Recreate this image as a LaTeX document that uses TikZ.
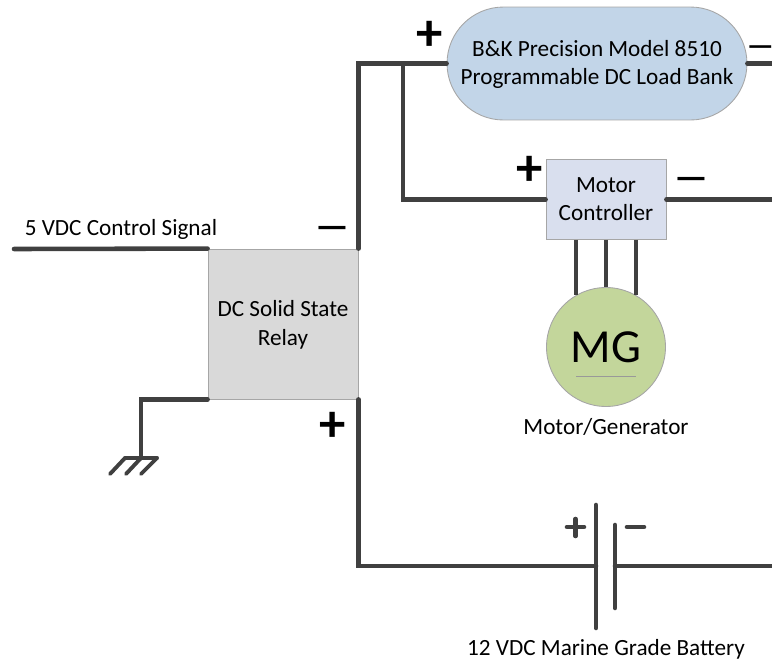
\documentclass[tikz,border=0pt]{standalone}
\usepackage{fontspec}
\setmainfont{Carlito}
\definecolor{wirecol}{HTML}{404040}
\definecolor{loadcol}{HTML}{C2D5E8}
\definecolor{ctrlcol}{HTML}{D9DFEE}
\definecolor{relaycol}{HTML}{D9D9D9}
\definecolor{mgcol}{HTML}{C3D69B}
\tikzset{
    wire/.style={line width=2.6pt, color=wirecol, line cap=round, line join=miter},
    thinwire/.style={line width=2.2pt, color=wirecol, line cap=round},
    blockbox/.style={draw=gray!70, line width=0.5pt, inner sep=0pt, align=center, text height=26.5pt, text depth=2.5pt, font=\fontsize{13.2}{16}\selectfont},
    textlabel/.style={inner sep=0pt, font=\fontsize{13.2}{16}\selectfont},
    polarplus/.style={inner sep=0pt, font=\fontsize{30}{30}\selectfont\bfseries},
    polarminus/.style={inner sep=0pt, font=\fontsize{21}{21}\selectfont\bfseries}
}

\begin{document}
\begin{tikzpicture}[x=0.02cm, y=-0.02cm]
            \useasboundingbox (0,0) rectangle (772,660);
            \node[blockbox, fill=relaycol, minimum width=3cm, minimum height=3cm] (relay) at (283,324) {DC Solid State\\Relay}; % Relay
            \node[blockbox, fill=loadcol, minimum width=6cm, minimum height=2.26cm, rounded corners=1.13cm] (load) at (597,63.5) {B\&K Precision Model 8510\\Programmable DC Load Bank}; % Load bank
            \node[blockbox, fill=ctrlcol, minimum width=2.4cm, minimum height=1.6cm] (ctrl) at (606,199.5) {Motor\\Controller}; % Controller
            \node[circle, draw=gray!70, line width=0.5pt, fill=mgcol, minimum size=2.38cm, inner sep=0pt, font=\fontsize{27}{27}\selectfont] (mg) at (606,347) {MG}; % Motor
            \draw[gray!80] (576,376) -- (636,376); % Line under MG

            \node[textlabel] (signal) at (121,229) {5 VDC Control Signal};
            \node[textlabel] (mglabel) at (606,427) {Motor/Generator};
            \node[textlabel] (batlabel) at (606,649) {12 VDC Marine Grade Battery};

            \node[polarplus] (loadplus) at (430,36) {+};
            \node[polarminus, font=\fontsize{17}{17}\selectfont\bfseries] (loadminus) at (760.5,51) {---};
            \node[polarplus] (ctrlplus) at (530,171) {+};
            \node[polarminus] (ctrlminus) at (691,183) {---};
            \node[polarminus] (relayminus) at (332,232) {---};
            \node[polarplus] (relayplus) at (333,427) {+};

            \coordinate (signalend) at (14,249);
            \coordinate (tap) at (403,64);
            \coordinate (loadout) at (772,64);
            \coordinate (ctrlout) at (772,199);
            \coordinate (groundtop) at (141,458);
            \coordinate (batout) at (772,566);
            \coordinate (platepos) at (596,566);
            \coordinate (plateneg) at (615,566);

            \draw[wire] (signalend) -- (relay.north west); % Control signal
            \draw[wire] (relay.north east) -- (relay.north east |- load.west) -- (load.west); % Relay to load
            \draw[wire] (tap) -- (tap |- ctrl.west) -- (ctrl.west); % Load to controller
            \draw[wire] (load.east) -- (load.east -| loadout);
            \draw[wire] (ctrl.east) -- (ctrl.east -| ctrlout);
            \draw[wire] (relay.south west) -- (groundtop |- relay.south west) -- (groundtop);
            \draw[wire] (relay.south east) -- (relay.south east |- platepos) -- (platepos);
            \draw[wire] (plateneg) -- (batout);

            \draw[wire, line cap=butt] (mg.120 |- ctrl.south) -- (mg.120); % Phase wires
            \draw[wire, line cap=butt] (mg.90 |- ctrl.south) -- (mg.90);
            \draw[wire, line cap=butt] (mg.60 |- ctrl.south) -- (mg.60);

            \draw[thinwire] (125,458) -- (157,458); % Ground
            \draw[thinwire] (125,458) -- (110,474);
            \draw[thinwire] (141,458) -- (126,474);
            \draw[thinwire] (157,458) -- (141,474);

            \draw[wire] (596,505) -- (596,628); % Battery plates
            \draw[wire] (615,525) -- (615,608);
            \draw[wire] (567,527) -- (584,527); % Plus
            \draw[wire] (575.5,519) -- (575.5,536);
            \draw[wire] (627,527) -- (644,527); % Minus
\end{tikzpicture}
\end{document}
